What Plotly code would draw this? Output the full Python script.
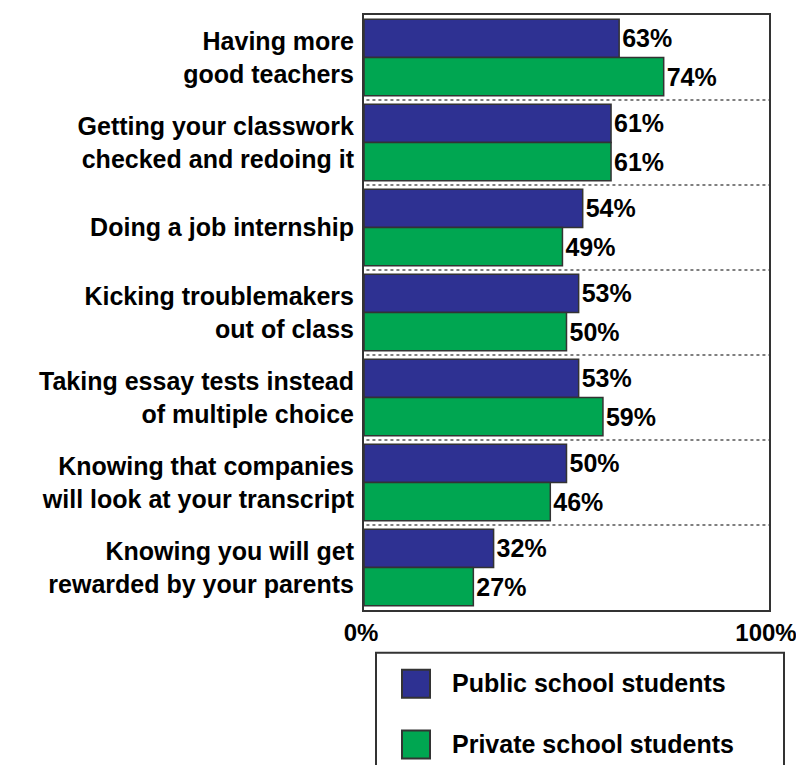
import plotly.graph_objects as go

# ---- data ----
categories = [
    "Having more<br>good teachers",
    "Getting your classwork<br>checked and redoing it",
    "Doing a job internship",
    "Kicking troublemakers<br>out of class",
    "Taking essay tests instead<br>of multiple choice",
    "Knowing that companies<br>will look at your transcript",
    "Knowing you will get<br>rewarded by your parents",
]
public_values = [63, 61, 54, 53, 53, 50, 32]
private_values = [74, 61, 49, 50, 59, 46, 27]
series_names = ["Public school students", "Private school students"]
x_tick_vals = [0, 100]
x_tick_text = ["0%", "100%"]

# ---- style ----
FONT = "Liberation Sans, Arial, sans-serif"
FS = 25
colors = ["#2E3192", "#00A651"]
edge = "#333333"
OFF = 8                      # page body margin
W, H = 804 - OFF, 773 - 2 * OFF
PL, PR, PT, PB = 364, 769, 13, 610   # plot area in page pixels

fig = go.Figure()
for name, vals, col in zip(series_names, [public_values, private_values], colors):
    fig.add_trace(go.Bar(
        name=name,
        orientation="h",
        y=categories,
        x=vals,
        text=[f"<b>{v}%</b>" for v in vals],
        textposition="outside",
        constraintext="none",
        cliponaxis=False,
        textfont=dict(family=FONT, size=FS, color="black"),
        marker=dict(color=col, line=dict(color=edge, width=1.5)),
        showlegend=False,
    ))

shapes = []
for i in range(len(categories) - 1):
    shapes.append(dict(type="line", xref="x", yref="y", x0=0.6, x1=100,
                       y0=i + 0.5, y1=i + 0.5,
                       line=dict(color="#555555", width=1.5, dash="dot"),
                       layer="below"))

def px(x):
    return (x - PL) / (PR - PL)

def py(y):
    return (PB - y) / (PB - PT)

shapes.append(dict(type="rect", xref="paper", yref="paper",
                   x0=px(376), x1=px(784), y0=py(653), y1=py(800),
                   line=dict(color=edge, width=2), fillcolor="rgba(0,0,0,0)"))
annotations = []
for k, (name, col) in enumerate(zip(series_names, colors)):
    top = 670 + k * 61
    shapes.append(dict(type="rect", xref="paper", yref="paper",
                       x0=px(402), x1=px(430), y0=py(top), y1=py(top + 28),
                       line=dict(color=edge, width=2), fillcolor=col))
    annotations.append(dict(xref="paper", yref="paper", x=px(450), y=py(top + 13),
                            xanchor="left", yanchor="middle", showarrow=False,
                            text=f"<b>{name}</b>",
                            font=dict(family=FONT, size=FS, color="black")))

fig.update_layout(
    width=W, height=H,
    margin=dict(l=PL - OFF, r=804 - PR, t=PT - OFF, b=(H + OFF) - PB, pad=0),
    paper_bgcolor="white", plot_bgcolor="white",
    barmode="group", bargap=0.1, bargroupgap=0.0,
    font=dict(family=FONT, size=FS, color="black"),
    shapes=shapes, annotations=annotations,
    showlegend=False,
)
fig.update_xaxes(
    range=[0, 100], tickvals=x_tick_vals,
    ticktext=[f"<b>{t}</b>" for t in x_tick_text],
    tickfont=dict(family=FONT, size=24, color="black"),
    showgrid=False, zeroline=False,
    showline=True, mirror=True, linecolor=edge, linewidth=2,
    ticks="", ticklabelstandoff=0, ticklabelshift=-3,
)
fig.update_yaxes(
    type="category", autorange="reversed",
    categoryorder="array", categoryarray=categories,
    tickvals=categories, ticktext=[f"<b>{c}</b>" for c in categories],
    tickfont=dict(family=FONT, size=FS, color="black"),
    showgrid=False, zeroline=False,
    showline=True, mirror=True, linecolor=edge, linewidth=2,
    ticks="", ticklabelstandoff=3,
)

fig.write_html("out.html")
